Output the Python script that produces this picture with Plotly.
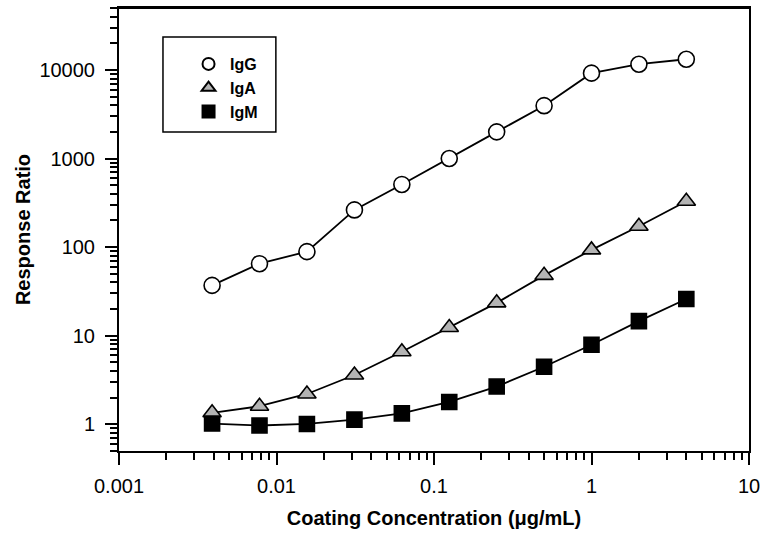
import plotly.graph_objects as go
import math

conc = [0.0039, 0.0078, 0.0156, 0.03125, 0.0625, 0.125, 0.25, 0.5, 1, 2, 4]
igg = [37, 65, 89, 263, 510, 1000, 2000, 3950, 9200, 11600, 13200]
iga = [1.35, 1.6, 2.2, 3.6, 6.6, 12.4, 23.5, 48, 93, 172, 330]
igm = [1.02, 0.97, 1.01, 1.13, 1.33, 1.79, 2.67, 4.46, 7.9, 14.6, 26]

series_names = ["IgG", "IgA", "IgM"]
series_values = [igg, iga, igm]
symbols = ["circle", "triangle-up", "square"]
fills = ["white", "#b4b4b4", "black"]
sizes = [16, 16, 15]

fig = go.Figure()
# connecting lines first (no legend)
for name, vals in zip(series_names, series_values):
    fig.add_trace(go.Scatter(
        x=conc, y=vals, mode="lines", showlegend=False, hoverinfo="skip",
        line=dict(color="black", width=1.8),
    ))
# markers on top (legend shows symbol only)
for name, vals, sym, col, sz in zip(series_names, series_values, symbols, fills, sizes):
    fig.add_trace(go.Scatter(
        x=conc, y=vals, name=name, mode="markers",
        marker=dict(symbol=sym, size=sz, color=col, line=dict(color="black", width=1.6)),
    ))

font = "Liberation Sans, Arial, sans-serif"
axis_common = dict(
    type="log", showgrid=False, zeroline=False,
    showline=True, linecolor="black", linewidth=2, mirror=True,
    ticks="outside", ticklen=12, tickwidth=2, tickcolor="black",
    minor=dict(ticks="outside", ticklen=7, tickwidth=1.5, tickcolor="black", dtick="D1"),
    tickfont=dict(family=font, size=20, color="black"),
)

fig.update_xaxes(
    **axis_common,
    range=[-3, 1],
    tickvals=[0.001, 0.01, 0.1, 1, 10],
    ticktext=["0.001", "0.01", "0.1", "1", "10"],
    ticklabelstandoff=4,
    title=dict(text="<b>Coating Concentration (μg/mL)</b>",
               font=dict(family=font, size=20, color="black"), standoff=15),
)
fig.update_yaxes(
    **axis_common,
    range=[math.log10(0.5), math.log10(50000)],
    tickvals=[1, 10, 100, 1000, 10000],
    ticktext=["1", "10", "100", "1000", "10000"],
    ticklabelstandoff=6,
    title=dict(text="<b>Response Ratio</b>",
               font=dict(family=font, size=20, color="black"), standoff=3),
)

# top border of the plot frame
fig.add_shape(type="line", xref="paper", yref="paper",
              x0=0, x1=1, y0=1, y1=1,
              line=dict(color="black", width=2))
# legend frame (paper coordinates of the plot area)
fig.add_shape(type="rect", xref="paper", yref="paper",
              x0=0.0698, x1=0.249, y0=0.720, y1=0.9345,
              line=dict(color="black", width=1.5), fillcolor="rgba(0,0,0,0)")

fig.update_layout(
    width=763, height=545,
    margin=dict(l=119, r=14, t=8, b=94, autoexpand=False),
    plot_bgcolor="white", paper_bgcolor="white",
    font=dict(family=font, color="black"),
    legend=dict(
        x=0.108, y=0.912, xanchor="left", yanchor="top",
        bgcolor="rgba(0,0,0,0)", borderwidth=0,
        font=dict(family=font, size=16, color="black", weight="bold"),
        itemsizing="constant", itemwidth=33, tracegroupgap=0,
    ),
    showlegend=True,
)

fig.write_html("out.html", config={"displayModeBar": False},
               post_script="document.body.style.margin='0';")
